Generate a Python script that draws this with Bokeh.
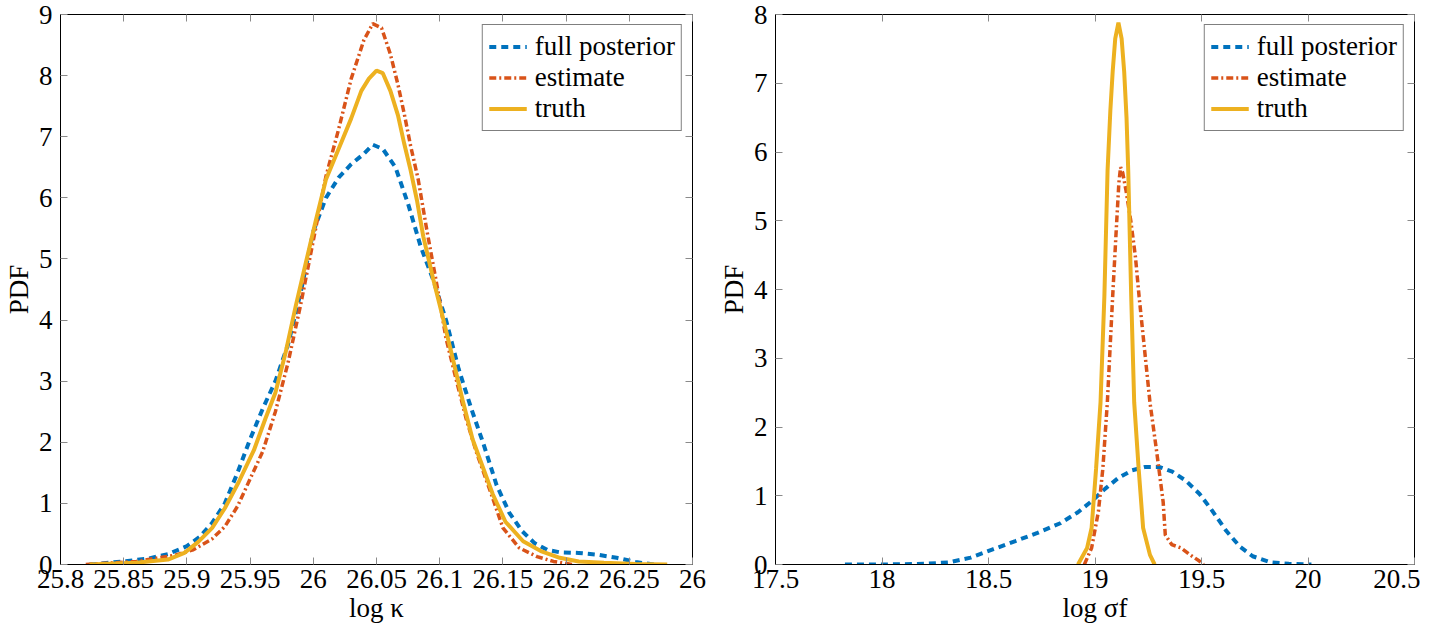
from bokeh.plotting import figure
from bokeh.layouts import row
from bokeh.models import Range1d, LinearAxis, FixedTicker
from bokeh.embed import file_html
from bokeh.resources import INLINE

FONT = "Liberation Serif"
BLUE = "#0072BD"
RED = "#D95319"
YELLOW = "#EDB120"
TICK = "#8a8a8a"

# ---------------- left panel: log kappa ----------------
k_x_ticks = [25.8, 25.85, 25.9, 25.95, 26.0, 26.05, 26.1, 26.15, 26.2, 26.25, 26.3]
k_x_labels = ["25.8", "25.85", "25.9", "25.95", "26", "26.05", "26.1", "26.15", "26.2", "26.25", "26"]
k_y_ticks = [0, 1, 2, 3, 4, 5, 6, 7, 8, 9]

k_full_x = [25.823, 25.85, 25.87, 25.885, 25.9, 25.91, 25.92, 25.93, 25.94, 25.95, 25.96, 25.97,
            25.98, 25.99, 26.0, 26.01, 26.02, 26.03, 26.04, 26.047, 26.055, 26.065, 26.075, 26.085,
            26.095, 26.105, 26.115, 26.125, 26.135, 26.145, 26.155, 26.165, 26.175, 26.185, 26.195,
            26.21, 26.225, 26.24, 26.255, 26.27]
k_full_y = [0.0, 0.05, 0.1, 0.17, 0.3, 0.45, 0.68, 1.0, 1.5, 2.05, 2.55, 3.0,
            3.6, 4.45, 5.45, 6.0, 6.33, 6.55, 6.72, 6.87, 6.8, 6.5, 5.9, 5.2,
            4.65, 4.0, 3.2, 2.55, 1.95, 1.3, 0.85, 0.55, 0.35, 0.24, 0.2,
            0.19, 0.16, 0.11, 0.04, 0.0]

k_est_x = [25.82, 25.86, 25.89, 25.905, 25.92, 25.93, 25.94, 25.95, 25.96, 25.97, 25.98, 25.99,
           26.0, 26.01, 26.02, 26.03, 26.04, 26.047, 26.054, 26.061, 26.067, 26.072, 26.077, 26.083,
           26.09, 26.098, 26.105, 26.113, 26.121, 26.129, 26.14, 26.15, 26.163, 26.177, 26.19, 26.205]
k_est_y = [0.0, 0.05, 0.15, 0.24, 0.42, 0.62, 0.95, 1.4, 1.85, 2.5, 3.3, 4.25,
           5.3, 6.35, 7.12, 7.95, 8.58, 8.85, 8.78, 8.35, 7.85, 7.37, 6.85, 6.3,
           5.45, 4.55, 3.7, 3.03, 2.38, 1.84, 1.2, 0.6, 0.27, 0.13, 0.05, 0.0]

k_true_x = [25.823, 25.86, 25.885, 25.898, 25.909, 25.92, 25.93, 25.941, 25.953, 25.962, 25.97,
            25.978, 25.986, 25.994, 26.002, 26.01, 26.02, 26.03, 26.038, 26.044, 26.05, 26.055,
            26.061, 26.067, 26.072, 26.077, 26.082, 26.087, 26.095, 26.103, 26.11, 26.118, 26.126,
            26.134, 26.142, 26.152, 26.166, 26.18, 26.195, 26.21, 26.23, 26.255, 26.28]
k_true_y = [0.0, 0.03, 0.08, 0.19, 0.37, 0.6, 0.92, 1.35, 1.87, 2.38, 2.81,
            3.46, 4.22, 4.93, 5.63, 6.3, 6.8, 7.3, 7.75, 7.95, 8.08, 8.04,
            7.75, 7.35, 6.88, 6.45, 5.96, 5.37, 4.66, 4.0, 3.4, 2.7, 2.05,
            1.6, 1.15, 0.7, 0.38, 0.22, 0.11, 0.05, 0.03, 0.01, 0.0]

# ---------------- right panel: log sigma_f ----------------
s_x_ticks = [17.5, 18.0, 18.5, 19.0, 19.5, 20.0, 20.5]
s_x_labels = ["17.5", "18", "18.5", "19", "19.5", "20", "20.5"]
s_y_ticks = [0, 1, 2, 3, 4, 5, 6, 7, 8]

s_full_x = [17.826, 18.0, 18.2, 18.31, 18.416, 18.52, 18.626, 18.73, 18.837, 18.92, 18.984, 19.047,
            19.11, 19.174, 19.237, 19.3, 19.363, 19.426, 19.49, 19.553, 19.616, 19.68, 19.74,
            19.826, 19.91, 20.016]
s_full_y = [0.0, 0.0, 0.01, 0.03, 0.1, 0.22, 0.34, 0.46, 0.6, 0.76, 0.92, 1.1,
            1.26, 1.37, 1.42, 1.42, 1.35, 1.22, 1.03, 0.77, 0.49, 0.26, 0.12,
            0.03, 0.01, 0.0]

s_est_x = [18.95, 18.984, 19.016, 19.037, 19.058, 19.083, 19.098, 19.112, 19.12, 19.13, 19.145,
           19.168, 19.19, 19.207, 19.258, 19.29, 19.32, 19.33, 19.36, 19.405, 19.447, 19.49, 19.51]
s_est_y = [0.0, 0.24, 0.77, 1.4, 2.36, 3.9, 4.77, 5.55, 5.78, 5.7, 5.45,
           5.0, 4.47, 3.9, 2.36, 1.63, 0.91, 0.43, 0.29, 0.24, 0.14, 0.05, 0.0]

s_true_x = [18.92, 18.963, 18.984, 19.005, 19.026, 19.044, 19.059, 19.072, 19.083, 19.095, 19.11,
            19.125, 19.137, 19.148, 19.156, 19.17, 19.184, 19.205, 19.226, 19.258, 19.28]
s_true_y = [0.0, 0.24, 0.53, 1.39, 2.36, 3.9, 5.73, 6.6, 7.17, 7.65, 7.88,
            7.65, 7.17, 6.5, 5.73, 3.9, 2.36, 1.39, 0.53, 0.14, 0.0]

names = ["full posterior", "estimate", "truth"]


def make_panel(xr, yr, xticks, xlabels, yticks, series, xlabel, width, bl, br):
    p = figure(width=width, height=626, x_range=Range1d(*xr), y_range=Range1d(*yr),
               output_backend="svg", toolbar_location=None,
               min_border_left=bl, min_border_right=br, min_border_top=14, min_border_bottom=62)
    p.grid.visible = False
    p.outline_line_color = "black"
    p.outline_line_width = 1
    p.background_fill_color = "white"
    p.border_fill_color = "white"

    xt = FixedTicker(ticks=xticks)
    yt = FixedTicker(ticks=yticks)
    xax = p.below[0]
    yax = p.left[0]
    xax.ticker = xt
    yax.ticker = yt
    xax.major_label_overrides = {t: l for t, l in zip(xticks, xlabels)}
    for ax in (xax, yax):
        ax.axis_line_color = "black"
        ax.major_tick_in = 7
        ax.major_tick_out = 0
        ax.major_tick_line_color = TICK
        ax.minor_tick_line_color = None
        ax.major_label_text_font = FONT
        ax.major_label_text_font_size = "27px"
        ax.major_label_text_color = "black"
        ax.axis_label_text_font = FONT
        ax.axis_label_text_font_size = "27px"
        ax.axis_label_text_font_style = "normal"
        ax.axis_label_text_color = "black"
    xax.major_label_standoff = 5
    xax.axis_label_standoff = 2
    yax.major_label_standoff = 8
    yax.axis_label_standoff = 2
    xax.axis_label = xlabel
    yax.axis_label = "PDF"

    for loc, tk in (("above", xt), ("right", yt)):
        ax = LinearAxis(ticker=tk, major_label_text_font_size="0px", major_label_standoff=0,
                        major_label_text_color=None,
                        major_tick_in=7, major_tick_out=0, minor_tick_line_color=None,
                        axis_line_color=None, major_tick_line_color=TICK)
        p.add_layout(ax, loc)

    (fx, fy), (ex, ey), (tx, ty) = series
    p.line(fx, fy, color=BLUE, line_width=4, line_dash="7 5", legend_label=names[0])
    p.line(ex, ey, color=RED, line_width=3.5, line_dash="7 3 2 3", legend_label=names[1])
    p.line(tx, ty, color=YELLOW, line_width=4, legend_label=names[2])

    lg = p.legend[0]
    lg.location = "top_right"
    lg.margin = 10
    lg.padding = 6
    lg.spacing = 0
    lg.glyph_width = 38
    lg.glyph_height = 27
    lg.label_height = 27
    lg.label_standoff = 8
    lg.label_text_font = FONT
    lg.label_text_font_size = "27px"
    lg.label_text_color = "black"
    lg.border_line_color = "black"
    lg.border_line_width = 1
    lg.background_fill_color = "white"
    lg.background_fill_alpha = 1.0
    return p


p1 = make_panel((25.8, 26.3), (0, 9), k_x_ticks, k_x_labels, k_y_ticks,
                [(k_full_x, k_full_y), (k_est_x, k_est_y), (k_true_x, k_true_y)],
                "log κ", 715, 50, 23)
p2 = make_panel((17.5, 20.5), (0, 8), s_x_ticks, s_x_labels, s_y_ticks,
                [(s_full_x, s_full_y), (s_est_x, s_est_y), (s_true_x, s_true_y)],
                "log σf", 705, 50, 6)

layout = row(p1, p2)
open("out.html", "w").write(file_html(layout, INLINE))
